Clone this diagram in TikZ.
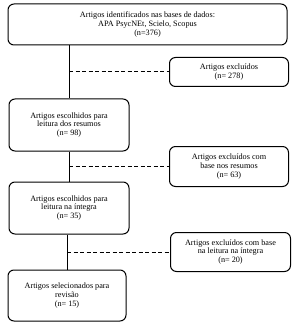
\documentclass[tikz,border=0pt]{standalone}
\usepackage{fontspec}
\setmainfont{Liberation Serif}
\usetikzlibrary{positioning, calc}

\begin{document}
\begin{tikzpicture}[
          x=1pt, y=-1pt,
          node distance=30pt,
          etapa/.style={draw, line width=1pt, rounded corners=6pt,
                        minimum width=120pt, minimum height=52pt,
                        font=\fontsize{8.2}{8.8}\selectfont, align=center, inner sep=1pt},
          excl/.style={etapa, minimum width=119pt, minimum height=39pt},
          tronco/.style={line width=1pt},
          tracej/.style={line width=1pt, dash pattern=on 4pt off 2.5pt}
        ]
        \useasboundingbox (0,0) rectangle (295,326);
        \node[etapa, minimum width=279pt, minimum height=41pt] (ident) at (147.5,24.5)
          {Artigos identificados nas bases de dados:\\APA PsycNEt, Scielo, Scopus\\(n=376)};
        \node[etapa, below=53pt of ident.south west, anchor=north west, xshift=1pt] (resumo)
          {Artigos escolhidos para\\leitura dos resumos\\(n= 98)};
        \node[etapa] (integra) [below=of resumo] {Artigos escolhidos para\\leitura na íntegra\\(n= 35)};
        \node[etapa, minimum width=118pt, minimum height=51pt, below=35pt of integra.south west,
              anchor=north west, xshift=-1pt] (selec) {Artigos selecionados para\\revisão\\(n= 15)};
        % pontos do tronco
        \coordinate (m1) at ($(ident.south -| resumo.north)!0.5!(resumo.north)$);
        \coordinate (m2) at ($(resumo.south)!0.5!(integra.north)$);
        \coordinate (m3) at ($(integra.south -| selec.north)!0.5!(selec.north)$);
        \node[excl, minimum height=29pt, right=100pt of m1] (exc1) {Artigos excluídos\\(n= 278)};
        \node[excl, minimum height=40pt, right=100pt of m2] (exc2) {Artigos excluídos com\\base nos resumos\\(n= 63)};
        \node[excl, minimum width=120pt, right=103pt of m3] (exc3) {Artigos excluídos com base\\na leitura na íntegra\\(n= 20)};
        \draw[tronco] (ident.south -| resumo.north) -- (resumo.north);
        \draw[tronco] (resumo) -- (integra);
        \draw[tronco] (integra.south -| selec.north) -- (selec.north);
        \draw[tracej] (m1) -- (exc1);
        \draw[tracej] (m2) -- (exc2);
        \draw[tracej] (m3) -- (exc3);
      \end{tikzpicture}
\end{document}
